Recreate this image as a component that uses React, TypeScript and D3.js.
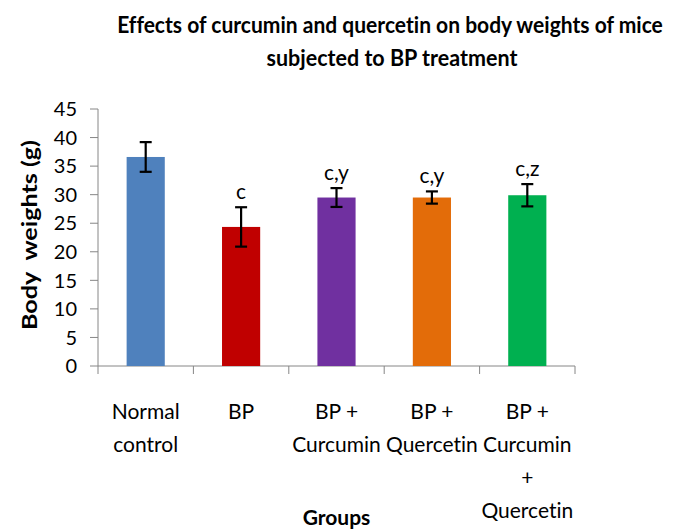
import React, { useLayoutEffect, useRef, useState } from 'react';
import * as d3 from 'd3';

// Groups, mean body weights (g) and error bars
const groups = ["Normal control", "BP", "BP + Curcumin", "BP + Quercetin", "BP + Curcumin + Quercetin"];
const groupLines = [
  ["Normal", "control"],
  ["BP"],
  ["BP +", "Curcumin"],
  ["BP +", "Quercetin"],
  ["BP +", "Curcumin", "+", "Quercetin"],
];
const means = [36.6, 24.35, 29.5, 29.5, 29.9];
const errors = [2.6, 3.45, 1.65, 1.07, 1.95];
const sigLabels = ["", "c", "c,y", "c,y", "c,z"];
const yTicks = [0, 5, 10, 15, 20, 25, 30, 35, 40, 45];
const titleLines = ["Effects of curcumin and quercetin on body weights of mice", "subjected to BP treatment"];

const colors = ["#4F81BD", "#C00000", "#7030A0", "#E36C09", "#00B050"];

const FONT = "Lato, 'Open Sans', sans-serif";
const AXIS = "#868686";

const W = 675;
const H = 531;
const margin = { top: 109, right: 100, bottom: 165, left: 98 };

// squeeze a text horizontally to a target width (the original uses a narrow font)
const NarrowText = ({ x, y, width, children, ...rest }: any) => {
  const ref = useRef<SVGTextElement>(null);
  const [sx, setSx] = useState(1);
  useLayoutEffect(() => {
    if (ref.current) {
      const len = ref.current.getComputedTextLength();
      if (len > 0) setSx(width / len);
    }
  }, [width]);
  return (
    <g transform={`translate(${x},${y}) scale(${sx},1)`}>
      <text ref={ref} x={0} y={0} {...rest}>{children}</text>
    </g>
  );
};

const App = () => {
  const x = d3.scaleBand<string>()
    .domain(groups)
    .range([margin.left, W - margin.right])
    .paddingInner(0)
    .paddingOuter(0);

  const y = d3.scaleLinear()
    .domain([0, 45])
    .range([H - margin.bottom, margin.top]);

  const barW = x.bandwidth() * 0.4;
  const capW = 12;
  const y0 = y(0);
  const xEnd = W - margin.right;

  return (
    <svg
      width={W}
      height={H}
      style={{ position: 'absolute', left: 0, top: 0, background: '#fff', fontVariantLigatures: 'none', fontFeatureSettings: '"liga" 0' }}
    >
      {/* title */}
      <g fontFamily={FONT} fontWeight="bold" fontSize={22} fill="#000" textAnchor="middle">
        <NarrowText x={390} y={33} width={546}>{titleLines[0]}</NarrowText>
        <NarrowText x={392} y={66} width={251}>{titleLines[1]}</NarrowText>
      </g>

      {/* y axis */}
      <line x1={margin.left} x2={margin.left} y1={y(45)} y2={y0} stroke={AXIS} strokeWidth={1} />
      {yTicks.map(t => (
        <g key={t}>
          <line x1={margin.left - 8} x2={margin.left} y1={y(t)} y2={y(t)} stroke={AXIS} strokeWidth={1} />
          <text x={77} y={y(t)} dy="0.36em" textAnchor="end" fontFamily={FONT} fontSize={20} fill="#000">
            {t}
          </text>
        </g>
      ))}
      <text
        transform={`translate(37,235) rotate(-90)`}
        textAnchor="middle"
        fontFamily={FONT}
        fontWeight="bold"
        fontSize={21}
        textLength={190}
        lengthAdjust="spacingAndGlyphs"
        style={{ whiteSpace: 'pre' }}
      >
        {"Body  weights (g)"}
      </text>

      {/* x axis */}
      <line x1={margin.left} x2={xEnd} y1={y0} y2={y0} stroke={AXIS} strokeWidth={1} />
      {groups.map(g => (
        <line key={g} x1={x(g)!} x2={x(g)!} y1={y0} y2={y0 + 8} stroke={AXIS} strokeWidth={1} />
      ))}
      <line x1={xEnd} x2={xEnd} y1={y0} y2={y0 + 8} stroke={AXIS} strokeWidth={1} />

      {/* bars */}
      {groups.map((g, i) => {
        const cx = x(g)! + x.bandwidth() / 2;
        return (
          <rect key={g} x={cx - barW / 2} y={y(means[i])} width={barW} height={y0 - y(means[i])} fill={colors[i]} />
        );
      })}

      {/* error bars */}
      {groups.map((g, i) => {
        const cx = x(g)! + x.bandwidth() / 2;
        const hi = y(means[i] + errors[i]);
        const lo = y(means[i] - errors[i]);
        return (
          <g key={g} stroke="#000" strokeWidth={2.2}>
            <line x1={cx} x2={cx} y1={hi} y2={lo} />
            <line x1={cx - capW / 2} x2={cx + capW / 2} y1={hi} y2={hi} />
            <line x1={cx - capW / 2} x2={cx + capW / 2} y1={lo} y2={lo} />
          </g>
        );
      })}

      {/* significance labels */}
      {groups.map((g, i) => (
        <text
          key={g}
          x={x(g)! + x.bandwidth() / 2}
          y={y(means[i] + errors[i]) - 8}
          textAnchor="middle"
          fontFamily={FONT}
          fontSize={21}
          fill="#000"
        >
          {sigLabels[i]}
        </text>
      ))}

      {/* category labels */}
      {groups.map((g, i) => (
        <text
          key={g}
          x={x(g)! + x.bandwidth() / 2}
          y={419}
          textAnchor="middle"
          fontFamily={FONT}
          fontSize={21}
          fill="#000"
        >
          {groupLines[i].map((ln, j) => (
            <tspan key={j} x={x(g)! + x.bandwidth() / 2} dy={j === 0 ? 0 : 33}>{ln}</tspan>
          ))}
        </text>
      ))}

      <text x={(margin.left + xEnd) / 2} y={525} textAnchor="middle" fontFamily={FONT} fontWeight="bold" fontSize={21}>
        Groups
      </text>
    </svg>
  );
};

export default App;
